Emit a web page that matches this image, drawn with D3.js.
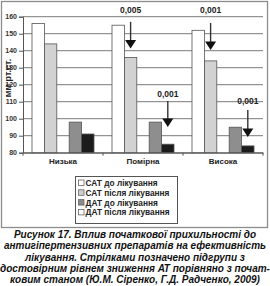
<!DOCTYPE html>
<html>
<head>
<meta charset="UTF-8">
<title>Рисунок 17</title>
<script src="https://d3js.org/d3.v7.min.js"></script>
<style>
  body { margin: 0; background: #fff; }
  svg { display: block; font-family: "Liberation Sans", Arial, sans-serif; }
</style>
</head>
<body>
<div id="chart"></div>
<script>
// chart data
var categories = ["Низька", "Помірна", "Висока"];
var seriesNames = ["САТ до лікування", "САТ після лікування", "ДАТ до лікування", "ДАТ після лікування"];
var satBefore = [156, 155, 152];
var satAfter = [144, 136, 134];
var datBefore = [98, 98, 95];
var datAfter = [91, 85, 84];
var yTicks = [80, 90, 100, 110, 120, 130, 140, 150, 160];
// arrows: category, series index, p-value label, label level, arrow start and end levels
var arrowCats = ["Помірна", "Висока", "Помірна", "Висока"];
var arrowSeries = [1, 1, 3, 3];
var arrowLabels = ["0,005", "0,001", "0,001", "0,001"];
var arrowLabelAt = [162, 162, 113, 108.5];
var arrowFrom = [157, 156.3, 110.4, 105.1];
var arrowTo = [141.3, 140.4, 95.1, 89.2];
var captionLines = [
  "Рисунок 17. Вплив початкової прихильності до",
  "антигіпертензивних препаратів на ефективність",
  "лікування. Стрілками позначено підгрупи з",
  "достовірним рівнем зниження АТ порівняно з почат-",
  "ковим станом (Ю.М. Сіренко, Г.Д. Радченко, 2009)"
];

var values = [satBefore, satAfter, datBefore, datAfter];
var barFill = ["#ffffff", "#d2d2d2", "#8e8e8e", "#1b1b1b"];
var swatchFill = ["#ffffff", "#cfcfcf", "#8a8a8a", "#ffffff"];
var slots = [0, 1, 3, 4]; // empty slot between САТ and ДАТ pairs

var svg = d3.select("#chart").append("svg")
    .attr("width", 270)
    .attr("height", 286);

// outer frame
svg.append("rect")
    .attr("x", 1.5).attr("y", 1.5)
    .attr("width", 266).attr("height", 226)
    .attr("fill", "#fff")
    .attr("stroke", "#8c8c8c")
    .attr("stroke-width", 1.3);

var y = d3.scaleLinear().domain([80, 160]).range([152.7, 16.7]);
var x0 = d3.scaleBand().domain(categories).range([23, 263]);
var x1 = d3.scaleBand().domain([0, 1, 2, 3, 4]).range([9, 71]);

// gridlines
svg.append("g").selectAll("line")
    .data(yTicks)
    .enter().append("line")
    .attr("x1", 23).attr("x2", 263)
    .attr("y1", function(d){ return y(d); })
    .attr("y2", function(d){ return y(d); })
    .attr("stroke", "#7a7a7a")
    .attr("stroke-width", 1);

// y axis
var yAxis = svg.append("g")
    .attr("transform", "translate(23,0)")
    .call(d3.axisLeft(y).tickValues(yTicks).tickSize(4).tickPadding(2));
yAxis.select(".domain").attr("stroke", "#555");
yAxis.selectAll(".tick line").attr("stroke", "#555");
yAxis.selectAll("text")
    .attr("font-size", "7px")
    .attr("font-weight", "bold")
    .attr("fill", "#333");

// bars
categories.forEach(function(c, ci){
    values.forEach(function(s, si){
        svg.append("rect")
            .attr("x", x0(c) + x1(slots[si]))
            .attr("y", y(s[ci]))
            .attr("width", x1.bandwidth())
            .attr("height", y(80) - y(s[ci]))
            .attr("fill", barFill[si])
            .attr("stroke", "#555")
            .attr("stroke-width", 0.8);
    });
});

// x axis
var xAxis = svg.append("g")
    .attr("transform", "translate(0," + y(80) + ")")
    .call(d3.axisBottom(x0).tickSize(0).tickPadding(6));
xAxis.select(".domain").attr("stroke", "#555");
xAxis.selectAll("text")
    .attr("font-size", "8px")
    .attr("font-weight", "bold")
    .attr("fill", "#222");
svg.append("g").selectAll("line")
    .data([23].concat(categories.map(function(c){ return x0(c) + x0.bandwidth(); })))
    .enter().append("line")
    .attr("x1", function(d){ return d; }).attr("x2", function(d){ return d; })
    .attr("y1", y(80)).attr("y2", y(80) + 3)
    .attr("stroke", "#555");

// y axis title
svg.append("text")
    .attr("transform", "translate(11,78) rotate(-90)")
    .attr("text-anchor", "middle")
    .attr("font-size", "9px")
    .attr("font-weight", "bold")
    .attr("fill", "#222")
    .text("мм рт.ст.");

// significance arrows
arrowCats.forEach(function(c, i){
    var cx = x0(c) + x1(slots[arrowSeries[i]]) + x1.bandwidth() / 2;
    var tip = y(arrowTo[i]);
    svg.append("line")
        .attr("x1", cx).attr("x2", cx)
        .attr("y1", y(arrowFrom[i])).attr("y2", tip - 6)
        .attr("stroke", "#333")
        .attr("stroke-width", 1.4);
    svg.append("path")
        .attr("d", "M" + (cx - 5.5) + "," + (tip - 8.5) + "L" + (cx + 5.5) + "," + (tip - 8.5) + "L" + cx + "," + tip + "Z")
        .attr("fill", "#111");
    svg.append("text")
        .attr("x", cx).attr("y", y(arrowLabelAt[i]))
        .attr("text-anchor", "middle")
        .attr("font-size", "8.5px")
        .attr("font-weight", "bold")
        .attr("fill", "#222")
        .text(arrowLabels[i]);
});

// legend
var legend = svg.append("g").attr("transform", "translate(75,176)");
legend.append("rect")
    .attr("x", 0.5).attr("y", 0.5)
    .attr("width", 102).attr("height", 47)
    .attr("fill", "#fff")
    .attr("stroke", "#555")
    .attr("stroke-width", 1);
seriesNames.forEach(function(n, i){
    var ly = 7 + i * 9.8;
    legend.append("rect")
        .attr("x", 3.5).attr("y", ly - 3)
        .attr("width", 5.5).attr("height", 5.5)
        .attr("fill", swatchFill[i])
        .attr("stroke", "#666")
        .attr("stroke-width", 0.8);
    legend.append("text")
        .attr("x", 10.5).attr("y", ly + 3)
        .attr("font-size", "8.3px")
        .attr("font-weight", "bold")
        .attr("fill", "#222")
        .text(n);
});

// caption
svg.append("g").selectAll("text")
    .data(captionLines)
    .enter().append("text")
    .attr("x", 135)
    .attr("y", function(d, i){ return 238 + i * 11.3; })
    .attr("text-anchor", "middle")
    .attr("font-size", "10px")
    .attr("font-weight", "bold")
    .attr("font-style", "italic")
    .attr("fill", "#111")
    .text(function(d){ return d; });
</script>
</body>
</html>
